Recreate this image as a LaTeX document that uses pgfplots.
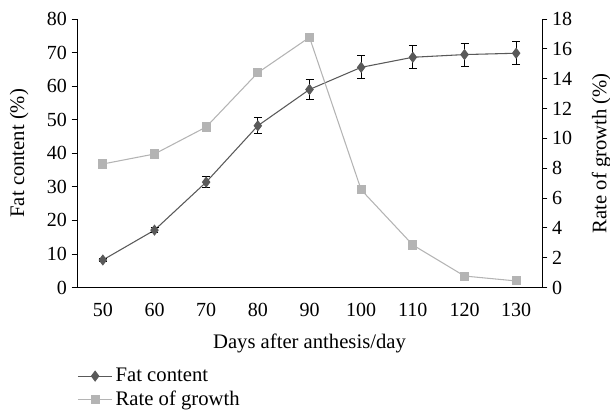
\documentclass[border=0pt]{standalone}
\usepackage{pgfplots}
\pgfplotsset{compat=1.18}
\usepackage{fontspec}
\setmainfont{Liberation Serif}
\definecolor{fatc}{HTML}{595959}
\definecolor{ratec}{HTML}{B4B4B4}
\begin{document}
\begin{tikzpicture}
\pgfplotsset{
  common/.style={
    scale only axis, width=348.75pt, height=201.4pt,
    xmin=-0.5, xmax=8.5,
    tick align=outside,
    major tick length=4pt, minor tick length=4.5pt,
    tick style={black, line width=0.6pt},
    axis line style={black, line width=0.6pt},
    ticklabel style={font=\fontsize{15}{17}\selectfont},
    label style={font=\fontsize{15.5}{17}\selectfont},
    /pgf/number format/assume math mode=true,
  }
}
\begin{axis}[common, name=ax, at={(0,0)}, anchor=south west,
  axis y line*=left, axis x line*=bottom,
  ymin=0, ymax=80, ytick={0,10,...,80},
  xtick={0,...,8}, xticklabels={50,60,70,80,90,100,110,120,130},
  xtick style={draw=none},
  minor xtick={-0.5,0.5,...,8.5},
  minor x tick style={black, line width=0.6pt},
  xticklabel style={yshift=-4.5pt},
  ylabel={Fat content (\%)},
  ylabel shift=7pt,
  xlabel={Days after anthesis/day},
  xlabel shift=6pt,
  legend style={draw=none, fill=none, at={(0,-0.29)}, anchor=north west,
    font=\fontsize{15.5}{17}\selectfont, row sep=1.5pt, inner sep=0pt},
  legend cell align=left,
  legend image code/.code={
    \draw[#1] (0pt,0pt) -- (26pt,0pt);
    \draw[#1, only marks] plot coordinates {(13pt,0pt)};
  },
]
\addplot[color=fatc, line width=0.8pt, mark=diamond*, mark size=3.6pt,
  mark options={fill=fatc, draw=fatc},
  error bars/.cd, y dir=both, y explicit,
  error bar style={black, line width=0.7pt},
  error mark options={rotate=90, mark size=3pt, black, line width=0.7pt}]
  table[x=x, y=y, y error=e] {
x y e
0 8.2 0.5
1 17.1 0.8
2 31.4 1.7
3 48.2 2.4
4 59.0 2.9
5 65.6 3.4
6 68.6 3.4
7 69.4 3.4
8 69.8 3.4
};
\addlegendentry{Fat content}
\addlegendimage{color=ratec, line width=0.8pt, mark=square*, mark size=3pt, mark options={fill=ratec, draw=ratec}}
\addlegendentry{Rate of growth}
\end{axis}
\begin{axis}[common, at={(0,0)}, anchor=south west,
  axis y line*=right, axis x line=none,
  ymin=0, ymax=18, ytick={0,2,...,18},
  ylabel={Rate of growth (\%)},
  ylabel shift=8pt,
]
\addplot[color=ratec, line width=0.8pt, mark=square*, mark size=3pt,
  mark options={fill=ratec, draw=ratec}]
  table {
x y
0 8.28
1 8.95
2 10.76
3 14.4
4 16.77
5 6.55
6 2.85
7 0.77
8 0.44
};
\end{axis}
\pgfresetboundingbox
\path[use as bounding box] ([xshift=-57.75pt,yshift=-92.6pt]ax.south west) rectangle ([xshift=51pt,yshift=14.25pt]ax.north east);
\end{tikzpicture}
\end{document}
